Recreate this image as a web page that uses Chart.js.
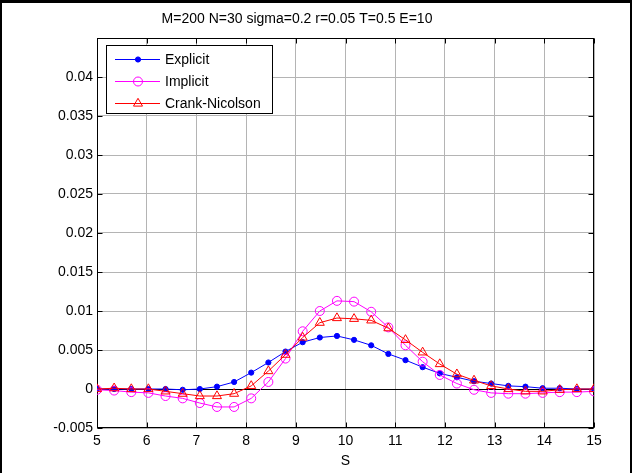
<!DOCTYPE html>
<html>
<head>
<meta charset="utf-8">
<script src="https://cdn.jsdelivr.net/npm/chart.js@4.4.1/dist/chart.umd.min.js"></script>
<style>
  html, body { margin: 0; padding: 0; background: #fff; }
  #wrap { position: relative; width: 632px; height: 473px; }
  #frame {
    position: absolute; left: 0; top: 0; right: 0; bottom: 0;
    border-top: 3px solid #000; border-left: 2px solid #000; border-right: 2px solid #000;
    pointer-events: none;
  }
</style>
</head>
<body>
<div id="wrap">
  <canvas id="fd" width="632" height="473"></canvas>
  <div id="frame"></div>
</div>
<script>
// asset price grid (30 nodes between 5 and 15)
const S = [5, 5.345, 5.690, 6.034, 6.379, 6.724, 7.069, 7.414, 7.759, 8.103,
           8.448, 8.793, 9.138, 9.483, 9.828, 10.172, 10.517, 10.862, 11.207, 11.552,
           11.897, 12.241, 12.586, 12.931, 13.276, 13.621, 13.966, 14.310, 14.655, 15];

const explicitV = [0, 0, 0, 0, 0, -0.0001, 0, 0.0003, 0.0009, 0.0021,
                   0.0034, 0.0048, 0.0060, 0.0066, 0.0068, 0.0063, 0.0056, 0.0045, 0.0037, 0.0028,
                   0.0020, 0.0015, 0.0010, 0.0007, 0.0004, 0.0003, 0.0001, 0.0001, 0, 0];

const implicitV = [-0.0001, -0.0002, -0.0004, -0.0005, -0.0009, -0.0012, -0.0018, -0.0023, -0.0023, -0.0012,
                   0.0009, 0.0039, 0.0074, 0.0100, 0.0113, 0.0112, 0.0099, 0.0079, 0.0056, 0.0035,
                   0.0018, 0.0007, -0.0001, -0.0005, -0.0006, -0.0006, -0.0005, -0.0004, -0.0004, -0.0003];

const crankV = [0, 0.0001, 0, 0, -0.0003, -0.0006, -0.0009, -0.0009, -0.0006, 0.0004,
                0.0023, 0.0044, 0.0066, 0.0085, 0.0091, 0.0090, 0.0088, 0.0078, 0.0063, 0.0047,
                0.0032, 0.0019, 0.0011, 0.0004, 0, -0.0003, -0.0003, -0.0001, 0, 0];

const xTicks = [5, 6, 7, 8, 9, 10, 11, 12, 13, 14, 15];
const xTickLabels = ['5', '6', '7', '8', '9', '10', '11', '12', '13', '14', '15'];
const yTicks = [-0.005, 0, 0.005, 0.01, 0.015, 0.02, 0.025, 0.03, 0.035, 0.04];
const yTickLabels = ['-0.005', '0', '0.005', '0.01', '0.015', '0.02', '0.025', '0.03', '0.035', '0.04'];

const FONT = '"Liberation Sans", Arial, Helvetica, sans-serif';
const gridGray = '#b4b4b4';

// later series are drawn on top
const series = [
  { label: 'Explicit', values: explicitV, color: '#0000ff', style: 'circle', radius: 2.6, fill: '#0000ff', order: 3 },
  { label: 'Implicit', values: implicitV, color: '#ff00ff', style: 'circle', radius: 4.5, fill: 'rgba(0,0,0,0)', order: 2 },
  { label: 'Crank-Nicolson', values: crankV, color: '#ff0000', style: 'triangle', radius: 5.2, fill: 'rgba(0,0,0,0)', order: 1 }
];

// axes box with inward tick marks on all four sides
const boxPlugin = {
  id: 'boxPlugin',
  beforeDatasetsDraw(chart) {
    const { ctx, chartArea: a, scales } = chart;
    const L = Math.round(a.left) + 0.5, R = Math.round(a.right) - 0.5;
    const T = Math.round(a.top) + 0.5, B = Math.round(a.bottom) - 0.5;
    const len = 5;
    ctx.save();
    ctx.strokeStyle = '#000';
    ctx.lineWidth = 1;
    ctx.beginPath();
    xTicks.forEach(v => {
      const px = Math.round(scales.x.getPixelForValue(v)) + 0.5;
      ctx.moveTo(px, B); ctx.lineTo(px, B - len);
      ctx.moveTo(px, T); ctx.lineTo(px, T + len);
    });
    yTicks.forEach(v => {
      const py = Math.round(scales.y.getPixelForValue(v)) + 0.5;
      ctx.moveTo(L, py); ctx.lineTo(L + len, py);
      ctx.moveTo(R, py); ctx.lineTo(R - len, py);
    });
    ctx.stroke();
    ctx.strokeRect(L, T, R - L, B - T);
    ctx.restore();
  }
};

// legend box in the upper left corner of the axes
const legendPlugin = {
  id: 'legendPlugin',
  afterDatasetsDraw(chart) {
    const ctx = chart.ctx;
    const bx = 106.5, by = 45.5, bw = 166, bh = 68;
    ctx.save();
    ctx.fillStyle = '#fff';
    ctx.fillRect(bx, by, bw, bh);
    ctx.strokeStyle = '#000';
    ctx.lineWidth = 1;
    ctx.strokeRect(bx, by, bw, bh);
    ctx.font = '14px ' + FONT;
    ctx.textBaseline = 'middle';
    series.forEach((s, i) => {
      const y = 59 + i * 22;
      ctx.strokeStyle = s.color;
      ctx.beginPath();
      ctx.moveTo(115, y + 0.5);
      ctx.lineTo(160, y + 0.5);
      ctx.stroke();
      ctx.fillStyle = s.fill;
      Chart.helpers.drawPoint(ctx, { pointStyle: s.style, radius: s.radius, borderWidth: 1, rotation: 0 }, 138, y + 0.5);
      ctx.fillStyle = '#000';
      ctx.fillText(s.label, 165, y + 1);
    });
    ctx.restore();
  }
};

new Chart(document.getElementById('fd'), {
  type: 'line',
  data: {
    datasets: series.map(s => ({
      label: s.label,
      data: S.map((x, i) => ({ x: x, y: s.values[i] })),
      order: s.order,
      borderColor: s.color,
      borderWidth: 1,
      pointStyle: s.style,
      pointRadius: s.radius,
      pointBorderColor: s.color,
      pointBackgroundColor: s.fill,
      pointBorderWidth: 1,
      tension: 0,
      fill: false
    }))
  },
  options: {
    responsive: false,
    animation: false,
    devicePixelRatio: 1,
    layout: { padding: { left: 0, right: 38, top: 0, bottom: 0 } },
    plugins: {
      legend: { display: false },
      tooltip: { enabled: false },
      title: {
        display: true,
        text: 'M=200 N=30 sigma=0.2 r=0.05 T=0.5 E=10',
        color: '#000',
        font: { family: FONT, size: 14, weight: 'normal', lineHeight: 1.2 },
        padding: { top: 11, bottom: 10.2 }
      }
    },
    scales: {
      x: {
        type: 'linear',
        min: 5,
        max: 15,
        afterBuildTicks: s => { s.ticks = xTicks.map(v => ({ value: v })); },
        afterFit: s => { s.height = 45; },
        ticks: {
          callback: (v, i) => xTickLabels[i],
          color: '#000',
          font: { family: FONT, size: 14 },
          padding: 5,
          maxRotation: 0,
          autoSkip: false
        },
        grid: { color: gridGray, lineWidth: 1, drawTicks: false },
        border: { display: false },
        title: {
          display: true,
          text: 'S',
          color: '#000',
          font: { family: FONT, size: 14 },
          padding: { top: 0, bottom: 3 }
        }
      },
      y: {
        type: 'linear',
        min: -0.005,
        max: 0.045,
        afterBuildTicks: s => { s.ticks = yTicks.map(v => ({ value: v })); },
        afterFit: s => { s.width = 97; },
        ticks: {
          callback: (v, i) => yTickLabels[i],
          color: '#000',
          font: { family: FONT, size: 14 },
          padding: 4,
          autoSkip: false
        },
        grid: {
          color: c => (c.tick && c.tick.value === 0 ? '#000' : gridGray),
          lineWidth: 1,
          drawTicks: false
        },
        border: { display: false }
      }
    }
  },
  plugins: [boxPlugin, legendPlugin]
});
</script>
</body>
</html>
